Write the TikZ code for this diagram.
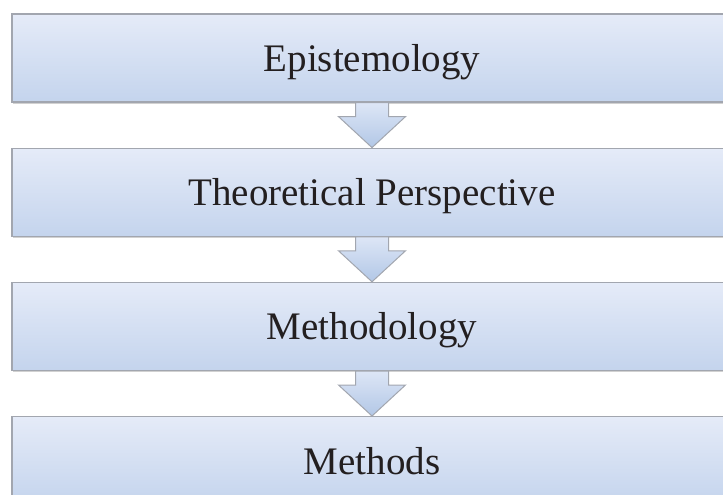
\documentclass[tikz,border=0pt]{standalone}
\usepackage{fontspec}
\setmainfont{Liberation Serif}
\usetikzlibrary{positioning,calc,shadows}

\definecolor{boxtop}{HTML}{E5EBF8}
\definecolor{boxbottom}{HTML}{C4D4ED}
\definecolor{boxline}{HTML}{A2A6AF}
\definecolor{arrowtop}{HTML}{DDE6F6}
\definecolor{arrowbottom}{HTML}{B2C7E6}
\definecolor{labeltext}{HTML}{231F20}

\tikzset{
  levelbox/.style={draw=boxline, line width=1.2pt, top color=boxtop, bottom color=boxbottom,
    minimum width=720pt, minimum height=88pt, text height=27pt, text depth=0pt,
    font=\fontsize{39}{44}\selectfont, text=labeltext,
    drop shadow={shadow xshift=1.2pt, shadow yshift=-1.8pt, opacity=0.3, fill=black!60}},
  downarrow/.style={draw=boxline, line width=1pt, top color=arrowtop, bottom color=arrowbottom, line join=miter}
}

\begin{document}
\begin{tikzpicture}
    \useasboundingbox (0,0) rectangle (723pt,-495pt);

    % The four levels, top to bottom (right edge runs off the page)
    \node[levelbox] (epi) at (372pt,-58pt) {Epistemology};
    \node[levelbox, below=45pt of epi] (theory) {Theoretical Perspective};
    \node[levelbox, below=45pt of theory] (method) {Methodology};
    \node[levelbox, below=45pt of method] (methods) {Methods};

    % Block arrows between the levels
    \draw[downarrow] ($(epi.south)+(-16.5pt,0)$) -- ++(0,-14pt) -- ++(-17pt,0) -- (theory.north) -- ++(33.5pt,31pt) -- ++(-17pt,0) -- ++(0,14pt) -- cycle;
    \draw[downarrow] ($(theory.south)+(-16.5pt,0)$) -- ++(0,-14pt) -- ++(-17pt,0) -- (method.north) -- ++(33.5pt,31pt) -- ++(-17pt,0) -- ++(0,14pt) -- cycle;
    \draw[downarrow] ($(method.south)+(-16.5pt,0)$) -- ++(0,-14pt) -- ++(-17pt,0) -- (methods.north) -- ++(33.5pt,31pt) -- ++(-17pt,0) -- ++(0,14pt) -- cycle;

\end{tikzpicture}
\end{document}
